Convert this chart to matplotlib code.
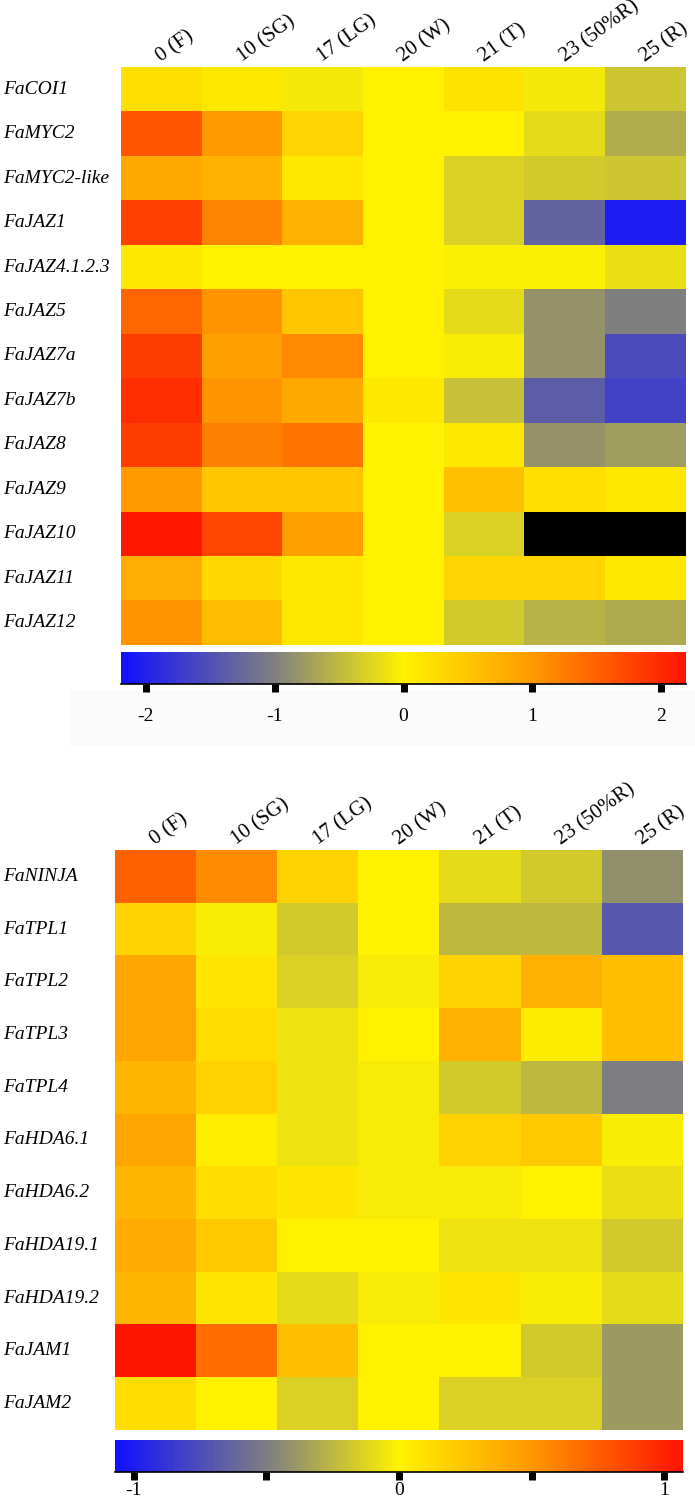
import numpy as np
import matplotlib
matplotlib.use("Agg")
import matplotlib.pyplot as plt
from matplotlib.colors import LinearSegmentedColormap, Normalize
from matplotlib.cm import ScalarMappable
from matplotlib.patches import Rectangle
import matplotlib.transforms as mtransforms

plt.rcParams['font.family'] = ['Liberation Serif', 'DejaVu Serif']
plt.rcParams['axes.unicode_minus'] = False

stages = ["0 (F)", "10 (SG)", "17 (LG)", "20 (W)", "21 (T)", "23 (50%R)", "25 (R)"]

genes_top = ["FaCOI1", "FaMYC2", "FaMYC2-like", "FaJAZ1", "FaJAZ4.1.2.3", "FaJAZ5",
             "FaJAZ7a", "FaJAZ7b", "FaJAZ8", "FaJAZ9", "FaJAZ10", "FaJAZ11", "FaJAZ12"]
vals_top = [
    [0.22, 0.11, -0.08, 0.0, 0.17, -0.08, -0.39],
    [1.60, 1.00, 0.33, 0.0, 0.0, -0.20, -0.60],
    [0.83, 0.72, 0.11, 0.0, -0.28, -0.35, -0.39],
    [1.78, 1.18, 0.72, 0.0, -0.28, -1.30, -2.05],
    [0.11, 0.0, 0.0, 0.0, -0.03, -0.03, -0.17],
    [1.46, 1.05, 0.50, 0.0, -0.20, -0.83, -1.00],
    [1.83, 0.94, 1.14, 0.0, -0.04, -0.83, -1.54],
    [1.96, 1.05, 0.83, 0.11, -0.43, -1.36, -1.65],
    [1.83, 1.23, 1.32, 0.0, 0.11, -0.83, -0.75],
    [1.00, 0.50, 0.50, 0.0, 0.55, 0.22, 0.11],
    [2.14, 1.73, 0.94, 0.0, -0.28, np.nan, np.nan],
    [0.78, 0.28, 0.11, 0.0, 0.33, 0.33, 0.11],
    [1.05, 0.61, 0.11, 0.0, -0.35, -0.55, -0.63],
]

genes_bot = ["FaNINJA", "FaTPL1", "FaTPL2", "FaTPL3", "FaTPL4", "FaHDA6.1",
             "FaHDA6.2", "FaHDA19.1", "FaHDA19.2", "FaJAM1", "FaJAM2"]
vals_bot = [
    [0.73, 0.55, 0.17, 0.0, -0.10, -0.17, -0.41],
    [0.17, -0.02, -0.17, 0.0, -0.25, -0.25, -0.70],
    [0.42, 0.06, -0.14, -0.03, 0.17, 0.36, 0.28],
    [0.42, 0.11, -0.06, 0.0, 0.36, 0.04, 0.28],
    [0.33, 0.17, -0.06, -0.03, -0.17, -0.25, -0.50],
    [0.42, 0.03, -0.06, -0.03, 0.17, 0.22, -0.02],
    [0.33, 0.11, 0.06, -0.03, -0.03, 0.0, -0.08],
    [0.39, 0.22, 0.0, 0.0, -0.06, -0.06, -0.17],
    [0.33, 0.06, -0.10, -0.03, 0.06, -0.02, -0.10],
    [1.07, 0.68, 0.28, 0.0, 0.0, -0.17, -0.37],
    [0.11, 0.0, -0.14, 0.0, -0.14, -0.14, -0.37],
]

cmap = LinearSegmentedColormap.from_list(
    "jaz", [(0.0, "#1010ff"), (0.272, "#808080"), (0.5, "#fff200"),
            (0.728, "#ff9a00"), (1.0, "#ff1400")], N=256)
cmap.set_bad("black")

W, H = 695, 1497
fig = plt.figure(figsize=(W / 100, H / 100), dpi=100)


def box(x0, y0, x1, y1):
    return [x0 / W, 1 - y1 / H, (x1 - x0) / W, (y1 - y0) / H]


def heatmap(rect, genes, vals, norm):
    ax = fig.add_axes(rect)
    data = np.array(vals, dtype=float)
    ax.imshow(np.ma.masked_invalid(data), cmap=cmap, norm=norm,
              aspect="auto", interpolation="nearest")
    ax.set_xticks([])
    ax.set_yticks([])
    for s in ax.spines.values():
        s.set_visible(False)
    for j, lab in enumerate(stages):
        ax.annotate(lab, xy=(j, -0.5), xytext=(0, 3), textcoords="offset points",
                    rotation=36, rotation_mode="anchor", ha="left", va="baseline",
                    fontsize=15, annotation_clip=False)
    tr = mtransforms.blended_transform_factory(fig.transFigure, ax.transData)
    for i, g in enumerate(genes):
        ax.text(3 / W, i, g, transform=tr, ha="left", va="center",
                fontsize=14, style="italic")
    return ax


def colorbar(rect, norm, ticks, labels, pad):
    cax = fig.add_axes(rect)
    cb = fig.colorbar(ScalarMappable(norm=norm, cmap=cmap), cax=cax,
                      orientation="horizontal", ticks=ticks)
    cb.set_ticklabels(labels)
    cb.outline.set_visible(False)
    cax.plot([0, 1], [0, 0], transform=cax.transAxes, color="black", lw=1.2,
             clip_on=False)
    cax.tick_params(direction="out", length=6, width=5, color="black",
                    labelsize=14, pad=pad)
    return cb


# faint panel behind the first colour bar labels
fig.patches.append(Rectangle((70 / W, 1 - 745 / H), 625 / W, 55 / H,
                             transform=fig.transFigure, color="#fbfbfb", zorder=-1))

norm_top = Normalize(vmin=-2.19, vmax=2.19)
heatmap(box(121, 67, 686, 645), genes_top, vals_top, norm_top)
colorbar(box(121, 652, 686, 684), norm_top, [-2, -1, 0, 1, 2],
         ["-2", "-1", "0", "1", "2"], 11)

norm_bot = Normalize(vmin=-1.07, vmax=1.07)
heatmap(box(115, 850, 683, 1430), genes_bot, vals_bot, norm_bot)
colorbar(box(115, 1440, 683, 1472), norm_bot, [-1, -0.5, 0, 0.5, 1],
         ["-1", "", "0", "", "1"], 1)

fig.savefig("out.png", dpi=100)
